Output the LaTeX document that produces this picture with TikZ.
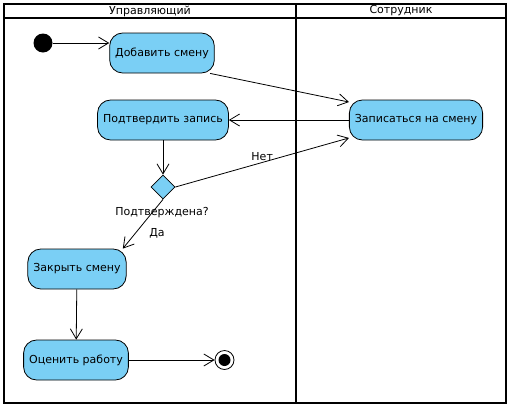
\documentclass[tikz,border=0pt]{standalone}
\usepackage{fontspec}
\setmainfont{DejaVu Sans}
\usetikzlibrary{arrows.meta,shapes.geometric}
\definecolor{actblue}{RGB}{122,207,245}
\begin{document}
\begin{tikzpicture}[x=1pt,y=-1pt,
    font=\fontsize{11}{13}\selectfont,
    act/.style={draw,fill=actblue,rounded corners=13pt,minimum height=40pt,inner xsep=5.5pt,line width=0.8pt},
    dec/.style={diamond,draw,fill=actblue,minimum size=24pt,inner sep=0pt,line width=0.8pt},
    initial/.style={circle,fill=black,minimum size=19pt,inner sep=0pt},
    final/.style={circle,draw,fill=white,minimum size=19pt,inner sep=0pt,line width=0.8pt},
    lbl/.style={inner sep=1pt}]
  \useasboundingbox (0,0) rectangle (511,410);
  % swimlanes
  \draw[line width=1.6pt] (4,4) rectangle (506,403);
  \draw[line width=1.6pt] (4,18) -- (506,18);
  \draw[line width=1.6pt] (296,4) -- (296,403);
  \node (lane1) at (150,11) {Управляющий};
  \node (lane2) at (401,11) {Сотрудник};
  % activities
  \draw
    (43,43) node[initial] (init){}
    (162,53) node[act] (add){Добавить смену}
    (163,120) node[act] (confirm){Подтвердить запись}
    (163,187) node[dec] (ok){}
    (77,269) node[act] (close){Закрыть смену}
    (76,360) node[act] (rate){Оценить работу}
    (224.5,360) node[final] (fin){}
    (416,120) node[act] (signup){Записаться на смену};
  \fill (fin) circle (6pt);
  \node[lbl] (okq) at (162,213) {Подтверждена?};
  \begin{scope}[-{Straight Barb[length=10pt,width=12pt]},line width=0.8pt]
    \draw (init.east) to (init.east -| add.west);
    \draw (add.-23) to (signup.165.6);
    \draw (signup) to (confirm);
    \draw (confirm) to (ok);
    \draw (ok.east) to node[lbl,above,pos=0.5] (no){Нет} (signup.195);
    \draw (ok.south) to (close.24);
    \draw (close) to (rate);
    \draw (rate) to (fin);
  \end{scope}
  \node[lbl] (yes) at (157,233) {Да};
\end{tikzpicture}
\end{document}
